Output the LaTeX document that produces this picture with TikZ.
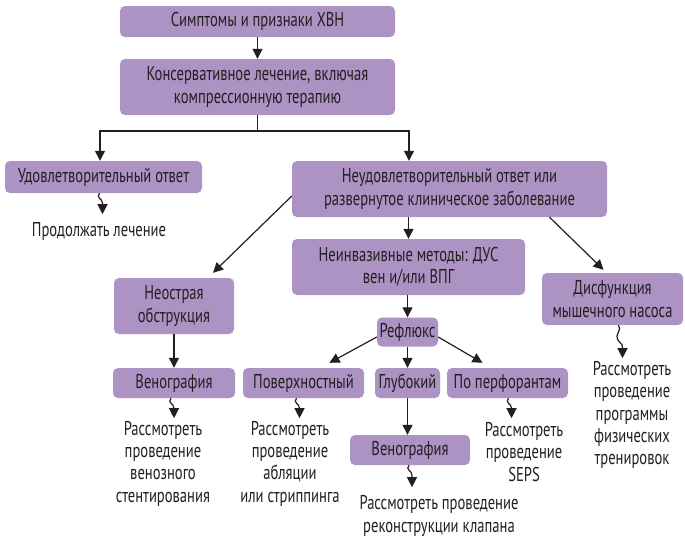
\documentclass[tikz,border=0pt]{standalone}
\usepackage{fontspec}
\setmainfont{PT Sans}[FakeStretch=0.73]
\usetikzlibrary{arrows.meta}
\definecolor{boxc}{HTML}{AD92C4}
\definecolor{linec}{HTML}{231F20}
\begin{document}
\begin{tikzpicture}[x=1pt,y=-1pt,font=\fontsize{20}{22.3}\selectfont,
  box/.style={fill=boxc,rounded corners=5pt,inner sep=2pt,align=center,text=linec},
  txt/.style={align=center,inner sep=1pt,text=linec},
  ln/.style={draw=linec,line width=1.2pt},
  arr/.style={ln,-{Triangle[width=10pt,length=10pt]}}]
\useasboundingbox (0,0) rectangle (685,538);
% boxes
\node[box,minimum width=275pt,minimum height=31pt] (b1) at (257.5,21.5) {Симптомы и признаки ХВН};
\node[box,minimum width=275pt,minimum height=56pt] (b2) at (257.5,87) {Консервативное лечение, включая\\компрессионную терапию};
\node[box,minimum width=197pt,minimum height=32pt] (b3) at (103.5,177) {Удовлетворительный ответ};
\node[box,minimum width=315pt,minimum height=56pt] (b4) at (449.5,189) {Неудовлетворительный ответ или\\развернутое клиническое заболевание};
\node[box,minimum width=233pt,minimum height=56pt] (b5) at (408.5,267) {Неинвазивные методы: ДУС\\вен и/или ВПГ};
\node[box,minimum width=120pt,minimum height=56pt] (b6) at (174,306) {Неострая\\обструкция};
\node[box,minimum width=141pt,minimum height=52pt] (b7) at (612.5,299) {Дисфункция\\мышечного насоса};
\node[box,minimum width=61pt,minimum height=29pt] (b8) at (407.5,332) {Рефлюкс};
\node[box,minimum width=122pt,minimum height=30pt] (b9) at (174,383) {Венография};
\node[box,minimum width=121pt,minimum height=30pt] (b10) at (303.5,383) {Поверхностный};
\node[box,minimum width=65pt,minimum height=30pt] (b11) at (407.5,383) {Глубокий};
\node[box,minimum width=121pt,minimum height=30pt] (b12) at (507.5,383) {По перфорантам};
\node[box,minimum width=120pt,minimum height=30pt] (b13) at (410,450) {Венография};
% texts
\node[txt] (t3) at (99,231) {Продолжать лечение};
\node[txt] (t9) at (163,463.5) {Рассмотреть\\проведение\\венозного\\стентирования};
\node[txt] (t10) at (290,463.5) {Рассмотреть\\проведение\\абляции\\или стриппинга};
\node[txt] (t12) at (524,452) {Рассмотреть\\проведение\\SEPS};
\node[txt] (t13) at (439,516) {Рассмотреть проведение\\реконструкции клапана};
\node[txt] (t7) at (632,415) {Рассмотреть\\проведение\\программы\\физических\\тренировок};
% connectors
\draw[arr] (b1) -- (b2);
\coordinate (jl) at (100,131);
\coordinate (jr) at (409,131);
\draw[ln] (b2.south) -- (b2.south |- jl);
\draw[arr] (jr) -- (jl) -- (jl |- b3.north);
\draw[arr] (jl) -- (jr) -- (jr |- b4.north);
\draw[arr] (b5.north |- b4.south) -- (b5.north);
\draw[arr] ([yshift=-7pt]b4.west) -- ([xshift=39pt,yshift=5pt]b6.north);
\draw[arr] ([xshift=100pt]b4.south) -- ([xshift=-9pt,yshift=3pt]b7.north);
\draw[arr] (b8.north |- b5.south) -- (b8.north);
\draw[arr] (b6) -- (b9);
\draw[arr] ([yshift=-5pt]b8.west) -- ([xshift=26pt,yshift=5pt]b10.north);
\draw[arr] (b8) -- (b11);
\draw[arr] ([yshift=-5pt]b8.east) -- ([xshift=-25pt,yshift=5pt]b12.north);
\draw[arr] (b11.south) -- (b11.south |- b13.north);
% squiggly arrows
\draw[arr] ([xshift=-4pt]b3.south) .. controls +(-4,5) and +(0,-5) .. ++(3,10) -- ++(0,11);
\draw[arr] ([xshift=-3pt]b9.south) .. controls +(-4,5) and +(0,-5) .. ++(3,10) -- ++(0,10);
\draw[arr] ([xshift=-7pt]b10.south) .. controls +(-4,5) and +(0,-5) .. ++(3,10) -- ++(0,10);
\draw[arr] ([xshift=1pt]b12.south) .. controls +(-4,5) and +(0,-5) .. ++(3,10) -- ++(0,10);
\draw[arr] ([xshift=-1pt]b13.south) .. controls +(-4,5) and +(0,-5) .. ++(3,10) -- ++(0,12);
\draw[arr] ([xshift=6pt]b7.south) .. controls +(4,4) and +(-3,-4) .. ++(-1,14) .. controls +(2,4) and +(0,-4) .. ++(5,8) -- ++(0,11);
\end{tikzpicture}
\end{document}
